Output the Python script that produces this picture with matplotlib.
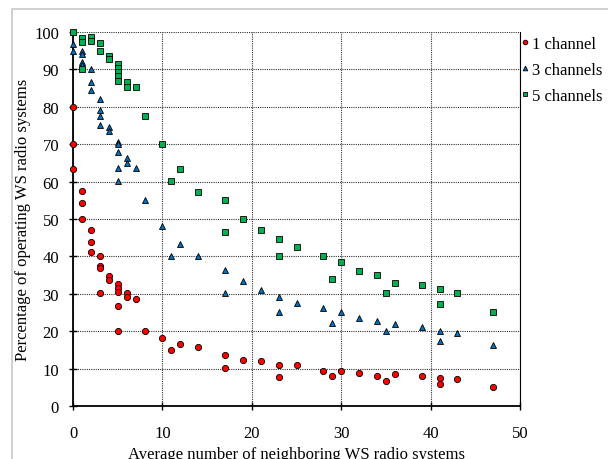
import matplotlib
matplotlib.use('Agg')
import matplotlib.pyplot as plt
from matplotlib.patches import Rectangle

# 1 channel
x1 = [0, 0, 0, 1, 1, 1, 2, 2, 2, 3, 3, 3, 3, 4, 4, 5, 5, 5, 5, 5, 6, 6, 7, 8,
      10, 11, 12, 14, 17, 17, 19, 21, 23, 23, 25, 28, 29, 30, 32, 34, 35, 36,
      39, 41, 41, 43, 47]
y1 = [80, 70, 63.5, 57.5, 54.2, 50, 47.1, 43.8, 41.3, 40.2, 37.3, 36.8, 30.1,
      34.8, 33.8, 32.6, 31.5, 30.6, 26.8, 20, 30.1, 29.1, 28.6, 20,
      18.2, 15.1, 16.7, 15.9, 13.7, 10.2, 12.3, 12, 11, 7.7, 11, 9.4, 8.1,
      9.4, 8.7, 8.1, 6.8, 8.5, 7.9, 7.4, 5.8, 7.1, 5.1]

# 3 channels
x3 = [0, 0, 1, 1, 1, 1, 2, 2, 2, 3, 3, 3, 3, 4, 4, 5, 5, 5, 5, 5, 6, 6, 7, 8,
      10, 11, 12, 14, 17, 17, 19, 21, 23, 23, 25, 28, 29, 30, 32, 34, 35, 36,
      39, 41, 41, 43, 47]
y3 = [96.8, 95, 95, 94.1, 91.9, 91.2, 90.1, 86.5, 84.6, 82.1, 79.2, 77.6, 75.1,
      74.5, 73.6, 70.7, 70, 67.8, 63.6, 60.1, 66.2, 65, 63.6, 55.1,
      48.2, 40.1, 43.4, 40.2, 36.4, 30.1, 33.4, 31, 29.2, 25.2, 27.6, 26.2,
      22.2, 25.2, 23.5, 22.6, 20.1, 21.8, 21.2, 20.1, 17.3, 19.6, 16.4]

# 5 channels
x5 = [0, 1, 1, 1, 2, 2, 3, 3, 4, 4, 5, 5, 5, 5, 5, 6, 6, 7, 8,
      10, 11, 12, 14, 17, 17, 19, 21, 23, 23, 25, 28, 29, 30, 32, 34, 35, 36,
      39, 41, 41, 43, 47]
y5 = [100, 98.3, 97.4, 90.1, 98.6, 97.7, 97.1, 95, 93.7, 92.8, 91.4, 90.3,
      89.2, 88.2, 87, 86.5, 85.2, 85.2, 77.6,
      70, 60.1, 63.5, 57.3, 55.2, 46.6, 50, 47.1, 44.7, 40.2, 42.5, 40.2, 34,
      38.6, 36, 35, 30.1, 33, 32.4, 31.2, 27.3, 30.1, 25.2]

labels = ['1 channel', '3 channels', '5 channels']

plt.rcParams['font.family'] = ['Liberation Serif', 'DejaVu Serif']
plt.rcParams['font.size'] = 12

fig = plt.figure(figsize=(6.08, 4.60), dpi=100)
# light gray chart border
fig.patches.append(Rectangle((12 / 608, -0.1), 1.2, (460 - 10) / 460 + 0.1,
                             transform=fig.transFigure, fill=False,
                             edgecolor='#c8c8c8', linewidth=1.2))

ax = fig.add_axes([73 / 608, 53 / 460, 447 / 608, 374 / 460])

ms = 4.5
ax.plot(x1, y1, 'o', color='#ff0000', markeredgecolor='black', markeredgewidth=0.6,
        markersize=ms, label=labels[0], clip_on=False, zorder=3)
ax.plot(x3, y3, '^', color='#0070c0', markeredgecolor='black', markeredgewidth=0.6,
        markersize=ms, label=labels[1], clip_on=False, zorder=3)
ax.plot(x5, y5, 's', color='#00b050', markeredgecolor='black', markeredgewidth=0.6,
        markersize=ms, label=labels[2], clip_on=False, zorder=3)

ax.set_xlim(0, 50)
ax.set_ylim(0, 100)
ax.set_xticks(range(0, 51, 10))
ax.set_yticks(range(0, 101, 10))
ax.grid(True, color='#333333', linestyle=(0, (1, 1)), linewidth=0.8)
ax.set_axisbelow(True)
ax.tick_params(direction='inout', length=6, width=1)
ax.tick_params(axis='x', pad=11)
ax.tick_params(axis='y', pad=7)

for side in ['left', 'bottom']:
    ax.spines[side].set_linewidth(1.3)
ax.spines['top'].set_visible(False)
ax.spines['right'].set_linewidth(0.8)

ax.set_xlabel('Average number of neighboring WS radio systems', labelpad=3)
ax.set_ylabel('Percentage of operating WS radio systems', labelpad=2)

fig.legend(loc='upper left', bbox_to_anchor=(520 / 608, 1 - 37 / 460),
           frameon=False, borderpad=0, borderaxespad=0,
           handletextpad=0.1, handlelength=0.6, labelspacing=0.6,
           markerscale=0.75)

fig.savefig('out.png', dpi=100)
